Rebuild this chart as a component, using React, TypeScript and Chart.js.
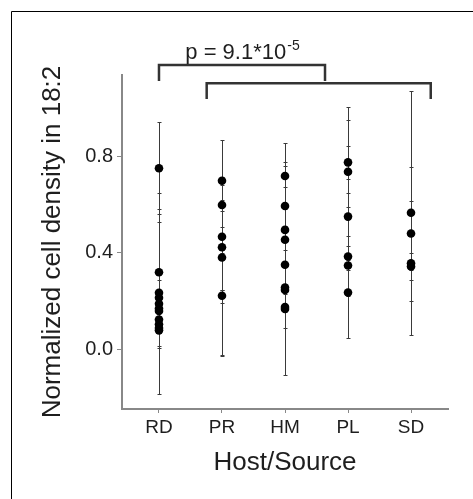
import { useEffect, useRef } from "react";
import { Chart, registerables } from "chart.js";

Chart.register(...registerables);

// ---------- data ----------
const categories = ["RD", "PR", "HM", "PL", "SD"];
const yTickValues = [0, 0.4, 0.8];

const rdValues = [0.75, 0.32, 0.235, 0.215, 0.19, 0.17, 0.16, 0.125, 0.105, 0.09, 0.08];
const rdLows = [0.561, 0.014, 0.2, 0.007, 0.17, -0.181, 0.14, 0.11, 0.09, 0.075, 0.07];
const rdHighs = [0.939, 0.646, 0.286, 0.583, 0.21, 0.529, 0.18, 0.14, 0.12, 0.105, 0.095];

const prValues = [0.698, 0.598, 0.467, 0.423, 0.381, 0.223];
const prLows = [0.68, 0.574, 0.247, -0.021, -0.027, 0.192];
const prHighs = [0.715, 0.62, 0.509, 0.866, 0.4, 0.245];

const hmValues = [0.718, 0.594, 0.495, 0.454, 0.351, 0.257, 0.247, 0.176, 0.168];
const hmLows = [0.671, 0.58, 0.412, 0.089, -0.103, 0.24, 0.23, 0.16, 0.155];
const hmHighs = [0.759, 0.774, 0.51, 0.852, 0.6, 0.27, 0.26, 0.19, 0.18];

const plValues = [0.774, 0.735, 0.55, 0.385, 0.348, 0.236];
const plLows = [0.704, 0.47, 0.047, 0.37, 0.33, 0.22];
const plHighs = [0.843, 1.003, 0.951, 0.646, 0.588, 0.429];

const sdValues = [0.566, 0.48, 0.357, 0.344];
const sdLows = [0.062, 0.203, 0.286, 0.33];
const sdHighs = [1.069, 0.756, 0.613, 0.401];

const groupValues = [rdValues, prValues, hmValues, plValues, sdValues];
const groupLows = [rdLows, prLows, hmLows, plLows, sdLows];
const groupHighs = [rdHighs, prHighs, hmHighs, plHighs, sdHighs];

// significance brackets (data units): [from x, to x, top y, leg end y]
const bracketFrom = [0, 0.757];
const bracketTo = [2.635, 4.313];
const bracketTop = [1.176, 1.101];
const bracketLeg = [1.11, 1.036];

const pValueText = "p = 9.1*10";
const pValueExponent = "-5";

const yTitle = "Normalized cell density in 18:2";
const xTitle = "Host/Source";

const FONT = "'Liberation Sans', Arial, sans-serif";

const framePlugin = {
  id: "frame",
  beforeDraw(chart: any) {
    const { ctx, width, height } = chart;
    ctx.save();
    ctx.fillStyle = "#ffffff";
    ctx.fillRect(0, 0, width, height);
    ctx.strokeStyle = "#000000";
    ctx.lineWidth = 1;
    ctx.beginPath();
    ctx.moveTo(11.5, height);
    ctx.lineTo(11.5, 11.5);
    ctx.lineTo(width, 11.5);
    ctx.stroke();
    ctx.restore();
  },
};

const errorBarPlugin = {
  id: "errorBars",
  beforeDatasetsDraw(chart: any) {
    const { ctx } = chart;
    const xs = chart.scales.x;
    const ys = chart.scales.y;
    ctx.save();
    ctx.strokeStyle = "#3a3a3a";
    ctx.lineWidth = 1;
    groupLows.forEach((lows, i) => {
      const px = Math.round(xs.getPixelForValue(i)) + 0.5;
      lows.forEach((lo, j) => {
        const hi = groupHighs[i][j];
        const y1 = Math.round(ys.getPixelForValue(lo)) + 0.5;
        const y2 = Math.round(ys.getPixelForValue(hi)) + 0.5;
        ctx.beginPath();
        ctx.moveTo(px, y1);
        ctx.lineTo(px, y2);
        ctx.moveTo(px - 2, y1);
        ctx.lineTo(px + 2, y1);
        ctx.moveTo(px - 2, y2);
        ctx.lineTo(px + 2, y2);
        ctx.stroke();
      });
    });
    ctx.restore();
  },
};

const bracketPlugin = {
  id: "brackets",
  afterDraw(chart: any) {
    const { ctx } = chart;
    const xs = chart.scales.x;
    const ys = chart.scales.y;
    ctx.save();
    ctx.strokeStyle = "#333333";
    ctx.lineWidth = 2.5;
    ctx.lineJoin = "miter";
    bracketFrom.forEach((fx, i) => {
      const x1 = xs.getPixelForValue(fx);
      const x2 = xs.getPixelForValue(bracketTo[i]);
      const yt = ys.getPixelForValue(bracketTop[i]);
      const yl = ys.getPixelForValue(bracketLeg[i]);
      ctx.beginPath();
      ctx.moveTo(x1, yl);
      ctx.lineTo(x1, yt);
      ctx.lineTo(x2, yt);
      ctx.lineTo(x2, yl);
      ctx.stroke();
    });
    // p-value label centred over the first bracket
    const cx = (xs.getPixelForValue(bracketFrom[0]) + xs.getPixelForValue(bracketTo[0])) / 2;
    const baseY = ys.getPixelForValue(bracketTop[0]) - 6;
    ctx.fillStyle = "#1e1e1e";
    ctx.textBaseline = "alphabetic";
    ctx.textAlign = "left";
    ctx.font = `22px ${FONT}`;
    const mainW = ctx.measureText(pValueText).width;
    ctx.font = `14px ${FONT}`;
    const supW = ctx.measureText(pValueExponent).width;
    const start = cx - (mainW + supW) / 2;
    ctx.font = `22px ${FONT}`;
    ctx.fillText(pValueText, start, baseY);
    ctx.font = `14px ${FONT}`;
    ctx.fillText(pValueExponent, start + mainW + 1, baseY - 9);
    ctx.restore();
  },
};

export default function App() {
  const canvasRef = useRef<HTMLCanvasElement | null>(null);

  useEffect(() => {
    if (!canvasRef.current) return;
    const points: { x: number; y: number }[] = [];
    groupValues.forEach((vals, i) => vals.forEach((v) => points.push({ x: i, y: v })));

    const chart = new Chart(canvasRef.current, {
      type: "scatter",
      data: {
        datasets: [
          {
            data: points,
            pointRadius: 4.3,
            pointHoverRadius: 4.3,
            backgroundColor: "#000000",
            borderWidth: 0,
          },
        ],
      },
      options: {
        animation: false,
        responsive: false,
        layout: { padding: { left: 0, top: 75, right: 25, bottom: 0 } },
        plugins: {
          legend: { display: false },
          tooltip: { enabled: false },
        },
        scales: {
          x: {
            type: "linear",
            min: -0.587,
            max: 4.587,
            afterBuildTicks: (scale: any) => {
              scale.ticks = categories.map((_, i) => ({ value: i }));
            },
            afterFit: (scale: any) => {
              scale.height = 90;
            },
            grid: { drawOnChartArea: false, drawTicks: true, tickLength: 4, color: "#888888" },
            border: { display: true, color: "#888888", width: 2 },
            ticks: {
              autoSkip: false,
              maxRotation: 0,
              padding: 3,
              color: "#1e1e1e",
              font: { family: FONT, size: 19 },
              callback: (v: any) => categories[Number(v)] ?? "",
            },
            title: {
              display: true,
              text: xTitle,
              color: "#1e1e1e",
              font: { family: FONT, size: 26 },
              padding: { top: 0, bottom: 21 },
            },
          },
          y: {
            type: "linear",
            min: -0.245,
            max: 1.135,
            afterBuildTicks: (scale: any) => {
              scale.ticks = yTickValues.map((v) => ({ value: v }));
            },
            afterFit: (scale: any) => {
              scale.width = 122;
            },
            grid: { drawOnChartArea: false, drawTicks: true, tickLength: 5, color: "#888888" },
            border: { display: true, color: "#888888", width: 2 },
            ticks: {
              padding: 4,
              color: "#1e1e1e",
              font: { family: FONT, size: 20 },
              callback: (v: any) => Number(v).toFixed(1),
            },
            title: {
              display: true,
              text: yTitle,
              color: "#1e1e1e",
              font: { family: FONT, size: 26 },
              padding: { top: 37, bottom: 0 },
            },
          },
        },
      },
      plugins: [framePlugin, errorBarPlugin, bracketPlugin],
    });
    return () => chart.destroy();
  }, []);

  return (
    <div style={{ position: "fixed", left: 0, top: 0, width: 473, height: 499, background: "#fff" }}>
      <canvas ref={canvasRef} width={473} height={499} style={{ display: "block" }} />
    </div>
  );
}
